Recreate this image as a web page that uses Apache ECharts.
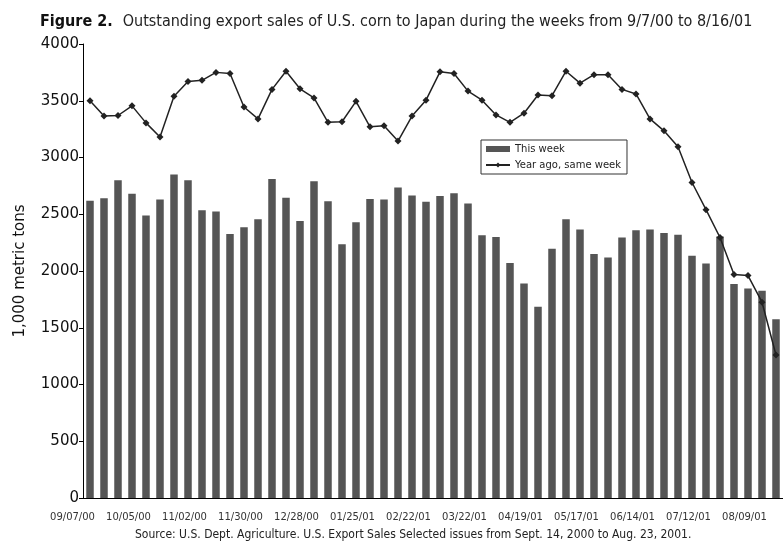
<!DOCTYPE html>
<html>
<head>
<meta charset="utf-8">
<script src="https://cdn.jsdelivr.net/npm/echarts@6/dist/echarts.min.js"></script>
<style>
  html, body { margin: 0; padding: 0; background: #fff; }
  #main { width: 783px; height: 544px; }
</style>
</head>
<body>
<div id="main"></div>
<script>
// weeks from 9/7/00 to 8/16/01
var weeks = [
  '09/07/00','09/14/00','09/21/00','09/28/00','10/05/00','10/12/00','10/19/00','10/26/00',
  '11/02/00','11/09/00','11/16/00','11/23/00','11/30/00','12/07/00','12/14/00','12/21/00',
  '12/28/00','01/04/01','01/11/01','01/18/01','01/25/01','02/01/01','02/08/01','02/15/01',
  '02/22/01','03/01/01','03/08/01','03/15/01','03/22/01','03/29/01','04/05/01','04/12/01',
  '04/19/01','04/26/01','05/03/01','05/10/01','05/17/01','05/24/01','05/31/01','06/07/01',
  '06/14/01','06/21/01','06/28/01','07/05/01','07/12/01','07/19/01','07/26/01','08/02/01',
  '08/09/01','08/16/01'
];

// 1,000 metric tons
var thisWeek = [
  2620, 2640, 2800, 2680, 2490, 2630, 2850, 2800, 2535, 2525,
  2325, 2385, 2455, 2810, 2645, 2440, 2790, 2615, 2235, 2430,
  2635, 2630, 2735, 2665, 2610, 2660, 2685, 2595, 2315, 2300,
  2070, 1890, 1685, 2195, 2455, 2365, 2150, 2120, 2295, 2360,
  2365, 2335, 2320, 2135, 2065, 2305, 1885, 1845, 1825, 1575
];

var yearAgo = [
  3500, 3365, 3370, 3455, 3305, 3180, 3540, 3670, 3680, 3750,
  3740, 3445, 3340, 3600, 3760, 3605, 3525, 3310, 3315, 3495,
  3270, 3280, 3145, 3365, 3505, 3755, 3740, 3585, 3505, 3375,
  3310, 3390, 3550, 3545, 3760, 3655, 3730, 3730, 3600, 3560,
  3340, 3235, 3095, 2780, 2540, 2295, 1970, 1960, 1725, 1260
];

var yTicks = [0, 500, 1000, 1500, 2000, 2500, 3000, 3500, 4000];

var chart = echarts.init(document.getElementById('main'));

chart.setOption({
  animation: false,
  title: {
    text: '{b|Figure 2.}  {n|Outstanding export sales of U.S. corn to Japan during the weeks from 9/7/00 to 8/16/01}',
    left: 40,
    top: 13,
    padding: 0,
    textStyle: {
      fontWeight: 'normal',
      rich: {
        b: { fontFamily: 'DejaVu Sans Condensed', fontWeight: 'bold', fontSize: 16, color: '#111' },
        n: { fontFamily: 'DejaVu Sans Condensed', fontWeight: 'normal', fontSize: 16, color: '#222' }
      }
    }
  },
  legend: {
    left: 481,
    top: 140,
    orient: 'vertical',
    borderColor: '#333',
    borderWidth: 1,
    padding: [4, 6, 4, 4],
    itemGap: 6,
    itemWidth: 24,
    itemHeight: 6,
    textStyle: { fontFamily: 'DejaVu Sans', fontSize: 10, color: '#222' },
    data: [
      { name: 'This week', icon: 'rect' },
      { name: 'Year ago, same week' }
    ]
  },
  grid: { left: 83, top: 44, width: 702, bottom: 46, containLabel: false },
  xAxis: [{
    type: 'category',
    data: weeks,
    boundaryGap: true,
    axisLine: { lineStyle: { color: '#000', width: 1 } },
    axisTick: { interval: 0, length: 4, lineStyle: { color: '#000' } },
    axisLabel: {
      interval: 3,
      fontFamily: 'DejaVu Sans',
      fontSize: 10,
      color: '#333',
      margin: 14,
      padding: [0, 35, 0, 0]
    }
  }, {
    type: 'category',
    data: weeks,
    position: 'bottom',
    boundaryGap: true,
    axisLine: { show: false },
    axisTick: { interval: 0, inside: true, length: 4, lineStyle: { color: '#000' } },
    axisLabel: { show: false }
  }],
  yAxis: {
    type: 'value',
    min: 0,
    max: 4000,
    interval: 500,
    name: '1,000 metric tons',
    nameLocation: 'middle',
    nameGap: 55,
    nameTextStyle: { fontFamily: 'DejaVu Sans', fontSize: 15, color: '#111' },
    splitLine: { show: false },
    axisLine: { show: true, lineStyle: { color: '#000', width: 1 } },
    axisTick: { show: true, length: 4, lineStyle: { color: '#000' } },
    axisLabel: {
      fontFamily: 'DejaVu Sans',
      fontSize: 15,
      color: '#111',
      margin: 4,
      formatter: function (v) { return yTicks.indexOf(v) >= 0 ? String(v) : ''; }
    }
  },
  series: [
    {
      name: 'This week',
      type: 'bar',
      data: thisWeek,
      barWidth: 7.5,
      itemStyle: { color: '#555555' }
    },
    {
      name: 'Year ago, same week',
      type: 'line',
      data: yearAgo,
      symbol: 'diamond',
      symbolSize: 7,
      lineStyle: { color: '#222', width: 1.5 },
      itemStyle: { color: '#222' }
    }
  ],
  graphic: [{
    type: 'text',
    left: 135,
    top: 529,
    style: {
      text: 'Source: U.S. Dept. Agriculture. U.S. Export Sales Selected issues from Sept. 14, 2000 to Aug. 23, 2001.',
      font: '12px "DejaVu Sans Condensed"',
      fill: '#222'
    }
  }]
});
</script>
</body>
</html>
